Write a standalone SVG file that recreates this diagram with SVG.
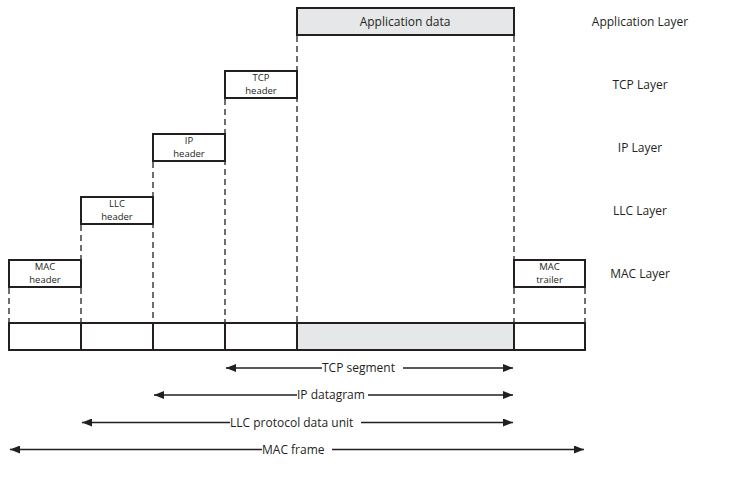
<svg xmlns="http://www.w3.org/2000/svg" width="748" height="478" viewBox="0 0 748 478">
<style>
.box{fill:#fff;stroke:#231f20;stroke-width:2}
.gray{fill:#e6e7e8}
.dash{stroke:#231f20;stroke-width:1.3;stroke-dasharray:6,4;fill:none}
.ln{stroke:#231f20;stroke-width:1.3;fill:none}
text{font-family:"Open Sans","Liberation Sans",sans-serif;fill:#231f20}
.s{font-size:9.5px;text-anchor:middle}
.m{font-size:12px;text-anchor:middle}
.lbl{font-size:12px}
</style>
<defs>
<marker id="ah" markerWidth="10" markerHeight="8" refX="10" refY="4" orient="auto-start-reverse" markerUnits="userSpaceOnUse">
<path d="M0,0 L10,4 L0,8 Z" fill="#231f20"/>
</marker>
</defs>
<g id="connectors">
<line class="dash" x1="297" y1="36" x2="297" y2="322"/>
<line class="dash" x1="514" y1="36" x2="514" y2="259"/>
<line class="dash" x1="514" y1="288" x2="514" y2="322"/>
<line class="dash" x1="225" y1="99" x2="225" y2="322"/>
<line class="dash" x1="153" y1="162" x2="153" y2="322"/>
<line class="dash" x1="81" y1="225" x2="81" y2="259"/>
<line class="dash" x1="81" y1="288" x2="81" y2="322"/>
<line class="dash" x1="9" y1="288" x2="9" y2="322"/>
<line class="dash" x1="585" y1="288" x2="585" y2="322"/>
</g>
<g id="app-data"><rect class="box gray" x="297" y="8" width="217" height="27"/><text class="m" x="405" y="26">Application data</text></g>
<g id="tcp-header"><rect class="box" x="225" y="71" width="72" height="27"/><text class="s" x="261" y="81">TCP</text><text class="s" x="261" y="94">header</text></g>
<g id="ip-header"><rect class="box" x="153" y="134" width="72" height="27"/><text class="s" x="189" y="144">IP</text><text class="s" x="189" y="157">header</text></g>
<g id="llc-header"><rect class="box" x="81" y="197" width="72" height="27"/><text class="s" x="117" y="207">LLC</text><text class="s" x="117" y="220">header</text></g>
<g id="mac-header"><rect class="box" x="9" y="260" width="72" height="27"/><text class="s" x="45" y="270">MAC</text><text class="s" x="45" y="283">header</text></g>
<g id="mac-trailer"><rect class="box" x="514" y="260" width="71" height="27"/><text class="s" x="549.5" y="270">MAC</text><text class="s" x="549.5" y="283">trailer</text></g>
<g id="frame">
<rect class="box" x="9" y="323" width="72" height="27"/>
<rect class="box" x="81" y="323" width="72" height="27"/>
<rect class="box" x="153" y="323" width="72" height="27"/>
<rect class="box" x="225" y="323" width="72" height="27"/>
<rect class="box gray" x="297" y="323" width="217" height="27"/>
<rect class="box" x="514" y="323" width="71" height="27"/>
</g>
<g id="layers">
<text class="m" x="640" y="26">Application Layer</text>
<text class="m" x="640" y="89">TCP Layer</text>
<text class="m" x="640" y="152">IP Layer</text>
<text class="m" x="640" y="215">LLC Layer</text>
<text class="m" x="640" y="278">MAC Layer</text>
</g>
<g id="spans">
<line class="ln" x1="322" y1="368" x2="226" y2="368" marker-end="url(#ah)"/>
<line class="ln" x1="403" y1="368" x2="513" y2="368" marker-end="url(#ah)"/>
<text class="lbl" x="322" y="372">TCP segment</text>
<line class="ln" x1="297" y1="395" x2="154" y2="395" marker-end="url(#ah)"/>
<line class="ln" x1="368" y1="395" x2="513" y2="395" marker-end="url(#ah)"/>
<text class="lbl" x="297" y="399">IP datagram</text>
<line class="ln" x1="230" y1="422.5" x2="82" y2="422.5" marker-end="url(#ah)"/>
<line class="ln" x1="361" y1="422.5" x2="513" y2="422.5" marker-end="url(#ah)"/>
<text class="lbl" x="230" y="426.5">LLC protocol data unit</text>
<line class="ln" x1="262" y1="449.5" x2="10" y2="449.5" marker-end="url(#ah)"/>
<line class="ln" x1="332" y1="449.5" x2="584" y2="449.5" marker-end="url(#ah)"/>
<text class="lbl" x="262" y="453.5">MAC frame</text>
</g>
</svg>
